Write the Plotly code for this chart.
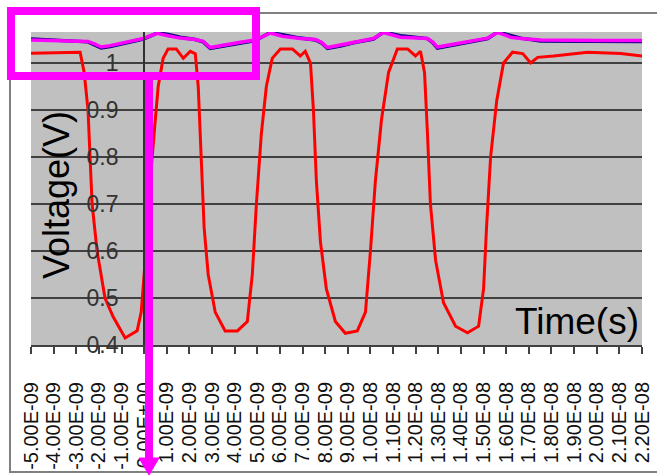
import plotly.graph_objects as go

# ---- data (time in seconds, voltage in volts) ----
red_t_ns = [-5, -3.72, -2.83, -2.65, -2.48, -2.39, -2.30, -2.08, -1.73, -1.37, -0.84, -0.31, -0.13, 0.0,
            0.13, 0.27, 0.44, 0.62, 0.84, 1.06, 1.42, 1.73, 2.04, 2.26, 2.39, 2.52, 2.65, 2.83, 3.14,
            3.58, 4.12, 4.56, 4.78, 4.96, 5.18, 5.40, 5.66, 6.02, 6.55, 6.90, 7.12, 7.35, 7.48, 7.61,
            7.79, 8.05, 8.45, 8.89, 9.42, 9.78, 10.0, 10.22, 10.49, 10.80, 11.19, 11.64, 11.99, 12.21,
            12.39, 12.52, 12.65, 12.88, 13.23, 13.76, 14.29, 14.78, 15.0, 15.13, 15.31, 15.58, 15.88,
            16.28, 16.73, 17.08, 17.39, 18.10, 19.60, 21.06, 22.0]
red_v = [1.021, 1.022, 1.023, 0.98, 0.90, 0.80, 0.70, 0.60, 0.50, 0.46, 0.415, 0.43, 0.47, 0.55,
         0.65, 0.75, 0.85, 0.95, 1.01, 1.03, 1.03, 1.01, 1.025, 1.02, 0.95, 0.80, 0.65, 0.55, 0.47,
         0.43, 0.43, 0.45, 0.55, 0.70, 0.85, 0.95, 1.01, 1.03, 1.03, 1.015, 1.025, 1.00, 0.90, 0.75,
         0.62, 0.52, 0.45, 0.425, 0.43, 0.47, 0.60, 0.75, 0.88, 0.98, 1.03, 1.03, 1.015, 1.025,
         0.98, 0.85, 0.70, 0.58, 0.49, 0.44, 0.426, 0.44, 0.52, 0.65, 0.80, 0.92, 1.00,
         1.023, 1.02, 1.00, 1.012, 1.015, 1.023, 1.02, 1.015]

upper_t_ns = [-5, -3.72, -2.48, -2.17, -1.90, -1.50, -0.84, -0.04, 0.27, 0.58, 1.06, 1.59, 2.26, 2.61,
              2.92, 3.36, 4.25, 4.91, 5.27, 5.58, 6.11, 6.90, 7.57, 7.83, 8.10, 8.67, 9.25, 10.13,
              10.58, 11.33, 12.52, 12.74, 12.96, 13.98, 15.18, 15.62, 16.19, 16.64, 17.52, 20.18, 22.0]
magenta_v = [1.049, 1.047, 1.046, 1.040, 1.034, 1.037, 1.044, 1.052, 1.058, 1.063, 1.058, 1.053, 1.050,
             1.046, 1.033, 1.037, 1.044, 1.049, 1.058, 1.064, 1.057, 1.052, 1.050, 1.044, 1.033, 1.038,
             1.044, 1.052, 1.065, 1.055, 1.052, 1.045, 1.034, 1.043, 1.053, 1.065, 1.055, 1.052, 1.049,
             1.048, 1.048]
blue_v = [1.051, 1.048, 1.045, 1.038, 1.032, 1.035, 1.043, 1.051, 1.057, 1.064, 1.061, 1.055, 1.050,
          1.045, 1.031, 1.035, 1.043, 1.048, 1.057, 1.065, 1.060, 1.053, 1.049, 1.043, 1.031, 1.036,
          1.043, 1.051, 1.066, 1.058, 1.052, 1.044, 1.032, 1.042, 1.052, 1.066, 1.058, 1.053, 1.047,
          1.046, 1.046]

tick_ns = list(range(-5, 23))
tick_labels = ["-5.00E-09", "-4.00E-09", "-3.00E-09", "-2.00E-09", "-1.00E-09", "0.00E+00",
               "1.00E-09", "2.00E-09", "3.00E-09", "4.00E-09", "5.00E-09", "6.00E-09", "7.00E-09",
               "8.00E-09", "9.00E-09", "1.00E-08", "1.10E-08", "1.20E-08", "1.30E-08", "1.40E-08",
               "1.50E-08", "1.60E-08", "1.70E-08", "1.80E-08", "1.90E-08", "2.00E-08", "2.10E-08",
               "2.20E-08"]
y_ticks = [0.4, 0.5, 0.6, 0.7, 0.8, 0.9, 1.0]
y_labels = ["0.4", "0.5", "0.6", "0.7", "0.8", "0.9", "1"]

ns = 1e-9
red_t = [t * ns for t in red_t_ns]
upper_t = [t * ns for t in upper_t_ns]
tick_vals = [t * ns for t in tick_ns]

FONT = "Liberation Sans, Arial, sans-serif"

# pixel geometry of plot area
W, H = 657, 475
L, R, T, B = 31, 642, 32, 345
PW, PH = R - L, B - T


def px(X):
    return (X - L) / PW


def py(Y):
    return (B - Y) / PH


fig = go.Figure()
fig.add_trace(go.Scatter(x=red_t, y=red_v, mode="lines",
                         line=dict(color="#FF0000", width=3), showlegend=False))
fig.add_trace(go.Scatter(x=upper_t, y=blue_v, mode="lines",
                         line=dict(color="#000080", width=3.5), showlegend=False))
fig.add_trace(go.Scatter(x=upper_t, y=magenta_v, mode="lines",
                         line=dict(color="#FF00FF", width=3.5), showlegend=False))

xpos0 = (0 - tick_vals[0]) / (tick_vals[-1] - tick_vals[0])

fig.update_layout(
    width=W, height=H,
    margin=dict(l=L, r=W - R, t=T, b=H - B, pad=0),
    paper_bgcolor="white",
    plot_bgcolor="#C0C0C0",
    font=dict(family=FONT, color="#222"),
    xaxis=dict(range=[tick_vals[0], tick_vals[-1]], tickvals=tick_vals, ticktext=tick_labels,
               tickangle=-90, tickfont=dict(size=20, color="#111"), ticks="outside", ticklen=7,
               tickwidth=1.5, tickcolor="#404040", showline=True, linecolor="#404040", linewidth=2,
               showgrid=False, zeroline=False, automargin=False, ticklabelstandoff=20,
               domain=[0, 1]),
    yaxis=dict(range=[0.4, 1.066], tickvals=y_ticks, ticktext=y_labels,
               tickfont=dict(size=23, color="#333"), ticks="", anchor="free", position=xpos0,
               showline=True, linecolor="#303030", linewidth=2,
               showgrid=True, gridcolor="#404040", gridwidth=1.5, zeroline=False,
               automargin=False, ticklabelstandoff=20),
)

fig.add_annotation(text="Voltage(V)", xref="paper", yref="paper", x=px(56), y=py(195),
                   textangle=-90, showarrow=False, font=dict(size=36, color="black", family=FONT),
                   xanchor="center", yanchor="middle")
fig.add_annotation(text="Time(s)", xref="paper", yref="paper", x=px(641), y=py(321),
                   showarrow=False, font=dict(size=37, color="black", family=FONT),
                   xanchor="right", yanchor="middle")

# outer chart border
fig.add_shape(type="rect", xref="paper", yref="paper", x0=px(10), x1=px(662), y0=py(472), y1=py(13),
              line=dict(color="#808080", width=2), layer="below")
# magenta highlight box and arrow
fig.add_shape(type="rect", xref="paper", yref="paper", x0=px(11), x1=px(256), y0=py(76), y1=py(11),
              line=dict(color="#FF00FF", width=8))
fig.add_shape(type="line", xref="paper", yref="paper", x0=px(149), x1=px(149), y0=py(80), y1=py(461),
              line=dict(color="#FF00FF", width=8))
fig.add_shape(type="path", xref="paper", yref="paper",
              path=f"M {px(139)} {py(458)} L {px(159)} {py(458)} L {px(149)} {py(475)} Z",
              fillcolor="#FF00FF", line=dict(color="#FF00FF", width=1))

fig.write_html("out.html")
